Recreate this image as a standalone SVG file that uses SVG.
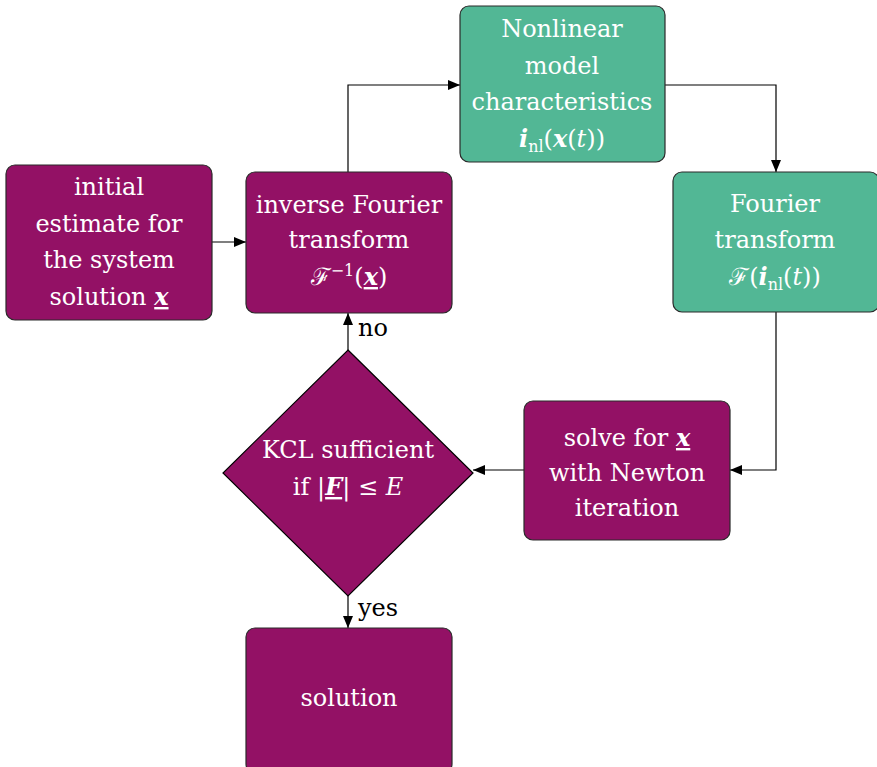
<svg xmlns="http://www.w3.org/2000/svg" width="877" height="767" viewBox="0 0 877 767">
<defs>
<style>
.p{fill:#931165;stroke:#2a2a2a;stroke-width:1.2}
.g{fill:#52b795;stroke:#2a2a2a;stroke-width:1.2}
.t{font-family:"DejaVu Serif","Liberation Serif",serif;font-size:24px;fill:#ffffff;text-anchor:middle}
.l{font-family:"DejaVu Serif","Liberation Serif",serif;font-size:24px;fill:#000000}
.m{font-style:italic}
.b{font-style:italic;font-weight:bold}
.u{text-decoration:underline}
.c{fill:none;stroke:#000000;stroke-width:1.2}
</style>
<marker id="ah" viewBox="0 0 12 10" refX="12" refY="5" markerWidth="12" markerHeight="10" markerUnits="userSpaceOnUse" orient="auto">
<path d="M0,0 L12,5 L0,10 z" fill="#000000"/>
</marker>
</defs>
<g id="connectors">
<path class="c" d="M212,242 L246,242" marker-end="url(#ah)"/>
<path class="c" d="M348,172 L348,85 L460,85" marker-end="url(#ah)"/>
<path class="c" d="M665,85 L776,85 L776,172" marker-end="url(#ah)"/>
<path class="c" d="M776,312 L776,470 L730,470" marker-end="url(#ah)"/>
<path class="c" d="M524,470 L473,470" marker-end="url(#ah)"/>
<path class="c" d="M348,350 L348,313" marker-end="url(#ah)"/>
<path class="c" d="M348,596 L348,628" marker-end="url(#ah)"/>
<text class="l" x="358" y="336">no</text>
<text class="l" x="358" y="616">yes</text>
</g>
<g id="initial">
<rect class="p" x="6" y="165" width="206" height="155" rx="9"/>
<text class="t" x="109" y="195">initial</text>
<text class="t" x="109" y="232">estimate for</text>
<text class="t" x="109" y="268">the system</text>
<text class="t" x="109" y="305">solution <tspan class="b u">x</tspan></text>
</g>
<g id="inverse">
<rect class="p" x="246" y="172" width="206" height="141" rx="9"/>
<text class="t" x="349" y="213">inverse Fourier</text>
<text class="t" x="349" y="248">transform</text>
<text class="t" x="349" y="285">ℱ<tspan font-size="16" dy="-9">−1</tspan><tspan dy="9">(</tspan><tspan class="b u">x</tspan>)</text>
</g>
<g id="nonlinear">
<rect class="g" x="460" y="6" width="205" height="156" rx="9"/>
<text class="t" x="562" y="37">Nonlinear</text>
<text class="t" x="562" y="74">model</text>
<text class="t" x="562" y="110">characteristics</text>
<text class="t" x="562" y="147"><tspan class="b">i</tspan><tspan font-size="16" dy="5">nl</tspan><tspan dy="-5">(</tspan><tspan class="b">x</tspan>(<tspan class="m">t</tspan>))</text>
</g>
<g id="fourier">
<rect class="g" x="673" y="172" width="206" height="140" rx="9"/>
<text class="t" x="775" y="212">Fourier</text>
<text class="t" x="775" y="248">transform</text>
<text class="t" x="775" y="285">ℱ(<tspan class="b">i</tspan><tspan font-size="16" dy="5">nl</tspan><tspan dy="-5">(</tspan><tspan class="m">t</tspan>))</text>
</g>
<g id="solve">
<rect class="p" x="524" y="401" width="206" height="139" rx="9"/>
<text class="t" x="627" y="446">solve for <tspan class="b u">x</tspan></text>
<text class="t" x="627" y="481">with Newton</text>
<text class="t" x="627" y="516">iteration</text>
</g>
<g id="decision">
<polygon class="p" points="348,350 473,473 348,596 223,473" style="stroke:#000"/>
<text class="t" x="348" y="458">KCL sufficient</text>
<text class="t" x="348" y="495">if |<tspan class="b u">F</tspan>| ≤ <tspan class="m">E</tspan></text>
</g>
<g id="solution">
<rect class="p" x="246" y="628" width="206" height="145" rx="9"/>
<text class="t" x="349" y="706">solution</text>
</g>
</svg>
